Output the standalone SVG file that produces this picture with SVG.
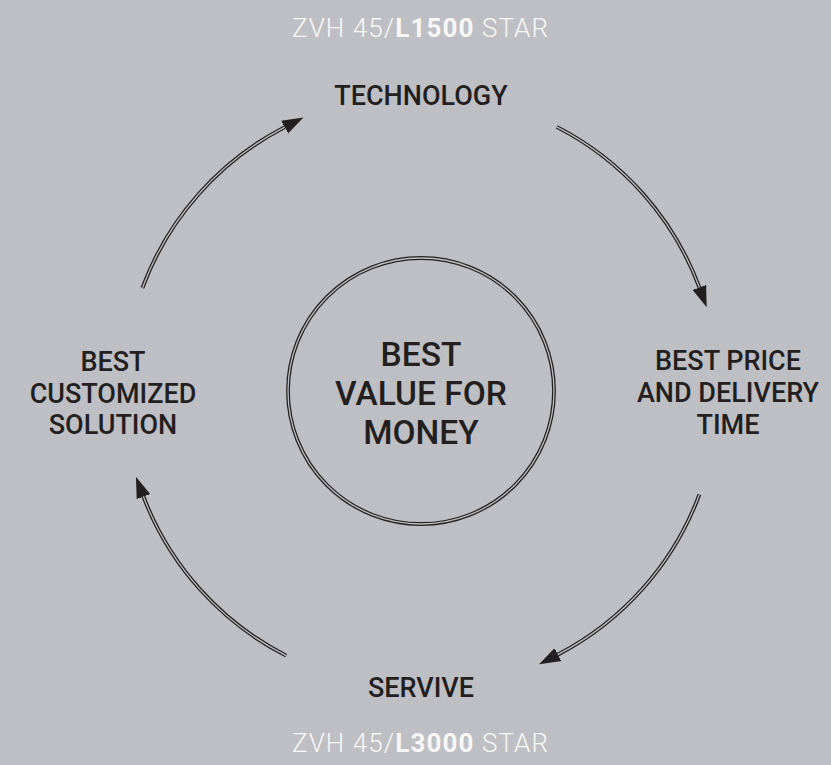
<svg xmlns="http://www.w3.org/2000/svg" width="831" height="765" viewBox="0 0 831 765">
  <style>
    .lbl { font-family: Roboto, "Liberation Sans", sans-serif; font-weight: 500; fill: #231f20; text-anchor: middle; }
    .node { font-size: 27px; }
    .center { font-size: 33.5px; }
    .title { font-family: Roboto, "Liberation Sans", sans-serif; font-weight: 300; font-size: 26px; fill: #f7f7f7; text-anchor: middle; }
    .title .b { font-weight: 700; }
    .outer { fill: none; stroke: #231f20; stroke-width: 3.8; }
    .inner { fill: none; stroke: #bebfc4; stroke-width: 1.3; }
  </style>
  <defs>
    <marker id="ah" markerUnits="userSpaceOnUse" markerWidth="24" markerHeight="18" viewBox="0 -9 24 18" refX="0" refY="0" orient="auto">
      <path d="M-1,-7.5 L21,0 L-1,7.5 z" fill="#231f20"/>
    </marker>
  </defs>
  <rect x="0" y="0" width="831" height="765" fill="#bebfc4"/>

  <g id="title-top">
    <text class="title" x="420" y="37" textLength="256" lengthAdjust="spacing">ZVH 45/<tspan class="b">L1500</tspan> STAR</text>
  </g>
  <g id="title-bottom">
    <text class="title" x="420" y="752" textLength="256" lengthAdjust="spacing">ZVH 45/<tspan class="b">L3000</tspan> STAR</text>
  </g>

  <g id="center-node">
    <circle cx="421" cy="391" r="133" class="outer"/>
    <circle cx="421" cy="391" r="133" class="inner"/>
    <text class="lbl center" x="421" y="366">BEST</text>
    <text class="lbl center" x="421" y="405">VALUE FOR</text>
    <text class="lbl center" x="421" y="444">MONEY</text>
  </g>

  <g id="technology">
    <text class="lbl node" x="421" y="105">TECHNOLOGY</text>
  </g>
  <g id="best-price">
    <text class="lbl node" x="728" y="370">BEST PRICE</text>
    <text class="lbl node" x="728" y="402">AND DELIVERY</text>
    <text class="lbl node" x="728" y="434">TIME</text>
  </g>
  <g id="servive">
    <text class="lbl node" x="421" y="697">SERVIVE</text>
  </g>
  <g id="best-customized">
    <text class="lbl node" x="113" y="371">BEST</text>
    <text class="lbl node" x="113" y="403">CUSTOMIZED</text>
    <text class="lbl node" x="113" y="434">SOLUTION</text>
  </g>

  <g id="connectors">
    <path class="outer" marker-end="url(#ah)" d="M142.4,288 A297,297 0 0 1 284.8,127.1"/>
    <path class="inner" d="M142.4,288 A297,297 0 0 1 284.8,127.1"/>
    <path class="outer" marker-end="url(#ah)" d="M556.8,126.9 A297,297 0 0 1 699.4,287.5"/>
    <path class="inner" d="M556.8,126.9 A297,297 0 0 1 699.4,287.5"/>
    <path class="outer" marker-end="url(#ah)" d="M699.4,494.5 A297,297 0 0 1 557.7,654.7"/>
    <path class="inner" d="M699.4,494.5 A297,297 0 0 1 557.7,654.7"/>
    <path class="outer" marker-end="url(#ah)" d="M286.2,655.6 A297,297 0 0 1 143.4,496.5"/>
    <path class="inner" d="M286.2,655.6 A297,297 0 0 1 143.4,496.5"/>
  </g>
</svg>
